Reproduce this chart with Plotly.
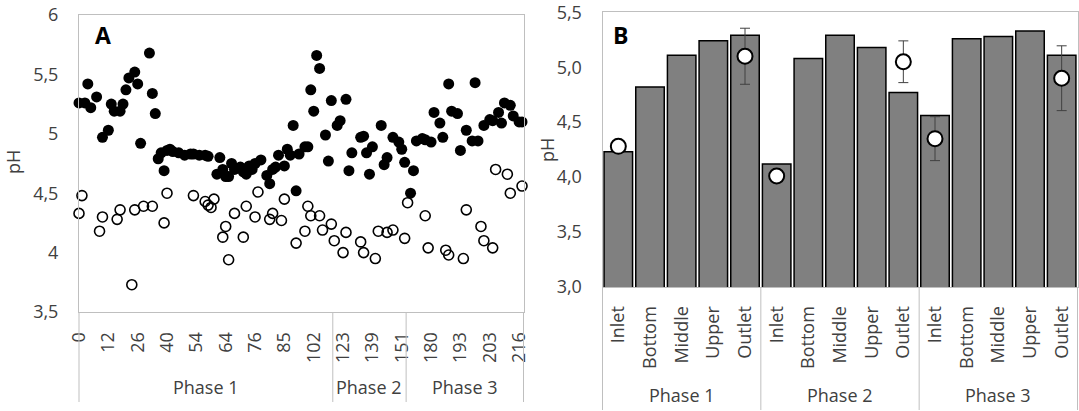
import plotly.graph_objects as go

# ---------------- Panel A data (sample position index, pH) ----------------
a_tick_labels = ["0", "12", "26", "40", "54", "64", "76", "85", "102",
                 "123", "139", "151", "180", "193", "203", "216"]
a_label_step = 10          # samples between labelled ticks
a_n_samples = 151.5        # axis extent in sample positions
a_phase_names = ["Phase 1", "Phase 2", "Phase 3"]
a_phase_edges = [0, 86.5, 111.5, 151.5]

black_idx = [0, 2, 3, 4, 6, 8, 10, 11, 12, 14, 15, 16, 17, 19, 20, 21, 24, 25, 26, 27,
             28, 29, 30, 31, 32, 34, 36, 38, 39, 41, 43, 44, 47, 48, 49, 50, 51, 52, 53, 55,
             56, 57, 58, 59, 60, 62, 64, 65, 66, 67, 68, 70, 71, 72, 73, 74, 75, 77, 78, 79,
             80, 81, 82, 84, 85, 86, 88, 89, 91, 92, 93, 96, 97, 98, 99, 100, 103, 104, 105, 107,
             109, 110, 111, 113, 114, 115, 117, 118, 120, 121, 123, 124, 126, 127, 129, 130, 132, 134, 135, 136,
             138, 140, 141, 143, 144, 145, 147, 148, 150, 151]
black_ph = [5.26, 5.26, 5.42, 5.22, 5.31, 4.97, 5.03, 5.25, 5.19, 5.19, 5.25, 5.37, 5.47, 5.52, 5.42, 4.92, 5.68, 5.34, 5.17, 4.79,
            4.84, 4.69, 4.86, 4.87, 4.85, 4.84, 4.82, 4.83, 4.83, 4.82, 4.82, 4.81, 4.66, 4.80, 4.70, 4.64, 4.64, 4.75, 4.70, 4.72,
            4.68, 4.66, 4.73, 4.70, 4.75, 4.78, 4.65, 4.58, 4.70, 4.72, 4.82, 4.73, 4.87, 4.82, 5.07, 4.52, 4.83, 4.89, 4.89, 5.37,
            5.19, 5.66, 5.55, 4.99, 4.77, 5.28, 5.07, 5.11, 5.29, 4.69, 4.84, 4.97, 4.98, 4.84, 4.66, 4.89, 5.07, 4.74, 4.80, 4.97,
            4.93, 4.87, 4.76, 4.50, 4.69, 4.94, 4.96, 4.95, 4.93, 5.18, 5.09, 4.97, 5.42, 5.19, 5.17, 4.86, 5.03, 4.94, 5.43, 4.94,
            5.07, 5.12, 5.11, 5.18, 5.09, 5.26, 5.24, 5.15, 5.10, 5.10]

open_idx = [0, 1, 7, 8, 13, 14, 18, 19, 22, 25, 29, 30, 39, 43, 44, 45, 46, 49, 50, 51,
            53, 56, 57, 60, 61, 65, 66, 69, 70, 74, 77, 78, 79, 82, 83, 86, 87, 90, 91, 96,
            97, 101, 102, 105, 107, 111, 112, 118, 119, 125, 126, 131, 132, 137, 138, 141, 142, 146, 147, 151]
open_ph = [4.33, 4.48, 4.18, 4.30, 4.28, 4.36, 3.73, 4.36, 4.39, 4.39, 4.25, 4.50, 4.48, 4.43, 4.40, 4.38, 4.45, 4.13, 4.22, 3.94,
           4.33, 4.13, 4.39, 4.30, 4.51, 4.28, 4.33, 4.27, 4.45, 4.08, 4.18, 4.39, 4.31, 4.31, 4.19, 4.24, 4.10, 4.00, 4.17, 4.09,
           4.00, 3.95, 4.18, 4.17, 4.19, 4.12, 4.42, 4.31, 4.04, 4.02, 3.98, 3.95, 4.36, 4.22, 4.10, 4.04, 4.70, 4.66, 4.50, 4.56]

# ---------------- Panel B data ----------------
stations = ["Inlet", "Bottom", "Middle", "Upper", "Outlet"]
phases = ["Phase 1", "Phase 2", "Phase 3"]
bars_phase1 = [4.23, 4.82, 5.11, 5.24, 5.29]
bars_phase2 = [4.12, 5.08, 5.29, 5.18, 4.77]
bars_phase3 = [4.56, 5.26, 5.28, 5.33, 5.11]
circ_phase1 = [4.28, None, None, None, 5.10]
circ_phase2 = [4.01, None, None, None, 5.05]
circ_phase3 = [4.35, None, None, None, 4.90]
err_phase1 = [0.0, 0, 0, 0, 0.255]
err_phase2 = [0.0, 0, 0, 0, 0.19]
err_phase3 = [0.20, 0, 0, 0, 0.295]

# ---------------- styling ----------------
FONT = "Open Sans"
TXT = "#404040"
GRID = "#bfbfbf"
FS = 18
W, H = 1079, 411

domA_x = [79 / W, 523.5 / W]
domA_y = [(H - 312) / H, (H - 15) / H]
domB_x = [602.5 / W, 1077.5 / W]
domB_y = [(H - 287) / H, (H - 12.3) / H]

fig = go.Figure()

# Panel A
fig.add_trace(go.Scatter(x=open_idx, y=open_ph, mode="markers", xaxis="x", yaxis="y",
                         marker=dict(symbol="circle-open", size=10, color="black",
                                     line=dict(width=1.6, color="black")),
                         showlegend=False, cliponaxis=False))
fig.add_trace(go.Scatter(x=black_idx, y=black_ph, mode="markers", xaxis="x", yaxis="y",
                         marker=dict(symbol="circle", size=11, color="black"),
                         showlegend=False, cliponaxis=False))

# Panel B
bx = list(range(len(stations) * len(phases)))
bars_all = bars_phase1 + bars_phase2 + bars_phase3
circ_all = circ_phase1 + circ_phase2 + circ_phase3
err_all = err_phase1 + err_phase2 + err_phase3
fig.add_trace(go.Bar(x=bx, y=bars_all, xaxis="x2", yaxis="y2", width=0.9,
                     marker=dict(color="#808080", line=dict(color="black", width=1.5)),
                     showlegend=False))
fig.add_trace(go.Scatter(x=bx, y=circ_all, mode="markers", xaxis="x2", yaxis="y2",
                         marker=dict(symbol="circle", size=15, color="white",
                                     line=dict(width=2, color="black")),
                         error_y=dict(type="data", array=err_all, visible=True,
                                      color="#404040", thickness=1, width=5),
                         showlegend=False, cliponaxis=False))

tickfont = dict(family=FONT, size=FS, color=TXT)
common = dict(showgrid=False, zeroline=False, showline=True, linecolor=GRID,
              linewidth=1, mirror=True, ticks="", automargin=False, tickfont=tickfont,
              ticklabeloverflow="allow")

fig.update_layout(
    width=W, height=H, margin=dict(l=0, r=0, t=0, b=0, autoexpand=False),
    paper_bgcolor="white", plot_bgcolor="white",
    separators=", ",
    font=dict(family=FONT, size=FS, color=TXT),
    bargap=0.1,
    xaxis=dict(domain=domA_x, range=[0, a_n_samples], anchor="y",
               tickvals=[i * a_label_step for i in range(len(a_tick_labels))],
               ticktext=a_tick_labels, tickangle=-90, ticklabelstandoff=12, **common),
    yaxis=dict(domain=domA_y, range=[3.5, 6], anchor="x", dtick=0.5,
               ticklabelstandoff=16, **common),
    xaxis2=dict(domain=domB_x, range=[-0.5, len(bx) - 0.5], anchor="y2",
                tickvals=bx, ticktext=stations * len(phases), tickangle=-90,
                ticklabelstandoff=11, **common),
    yaxis2=dict(domain=domB_y, range=[3.0, 5.5], anchor="x2", dtick=0.5, tickformat=".1f",
                ticklabelstandoff=16, **common),
)

shapes = []
annotations = []


def vline(xref, x, y0, y1):
    return dict(type="line", xref=xref, yref="paper", x0=x, x1=x, y0=y0, y1=y1,
                line=dict(color=GRID, width=1))


def label(text, xref, x, y, size=FS, color=TXT, angle=0, bold=False):
    return dict(text=f"<b>{text}</b>" if bold else text, xref=xref, yref="paper", x=x, y=y,
                xanchor="center", yanchor="middle", showarrow=False, textangle=angle,
                font=dict(family=FONT, size=size, color=color))


# Panel A phase separators and labels
a_sep_bottom = (H - 402) / H
shapes.append(vline("x domain", 0, domA_y[0], a_sep_bottom))
shapes.append(vline("x domain", 1, domA_y[0], a_sep_bottom))
for edge in a_phase_edges[1:-1]:
    shapes.append(vline("x", edge, domA_y[0], a_sep_bottom))
for k, name in enumerate(a_phase_names):
    annotations.append(label(name, "x", (a_phase_edges[k] + a_phase_edges[k + 1]) / 2, (H - 387) / H))

# Panel B phase separators and labels
nS = len(stations)
b_sep_bottom = (H - 410) / H
shapes.append(vline("x2 domain", 0, domB_y[0], b_sep_bottom))
shapes.append(vline("x2 domain", 1, domB_y[0], b_sep_bottom))
for k in range(1, len(phases)):
    shapes.append(vline("x2", k * nS - 0.5, domB_y[0], b_sep_bottom))
for k, name in enumerate(phases):
    annotations.append(label(name, "x2", k * nS + (nS - 1) / 2, (H - 395) / H))

# Axis titles and panel letters
annotations.append(label("pH", "paper", 13 / W, (H - 162) / H, angle=-90))
annotations.append(label("pH", "paper", 547 / W, (H - 150) / H, angle=-90))
annotations.append(label("A", "paper", 103 / W, (H - 35) / H, size=23, color="black", bold=True))
annotations.append(label("B", "paper", 620 / W, (H - 35) / H, size=23, color="black", bold=True))

fig.update_layout(shapes=shapes, annotations=annotations)
fig.write_html("out.html", config={"displayModeBar": False},
               post_script="document.body.style.margin='0';document.body.style.overflow='hidden';")
